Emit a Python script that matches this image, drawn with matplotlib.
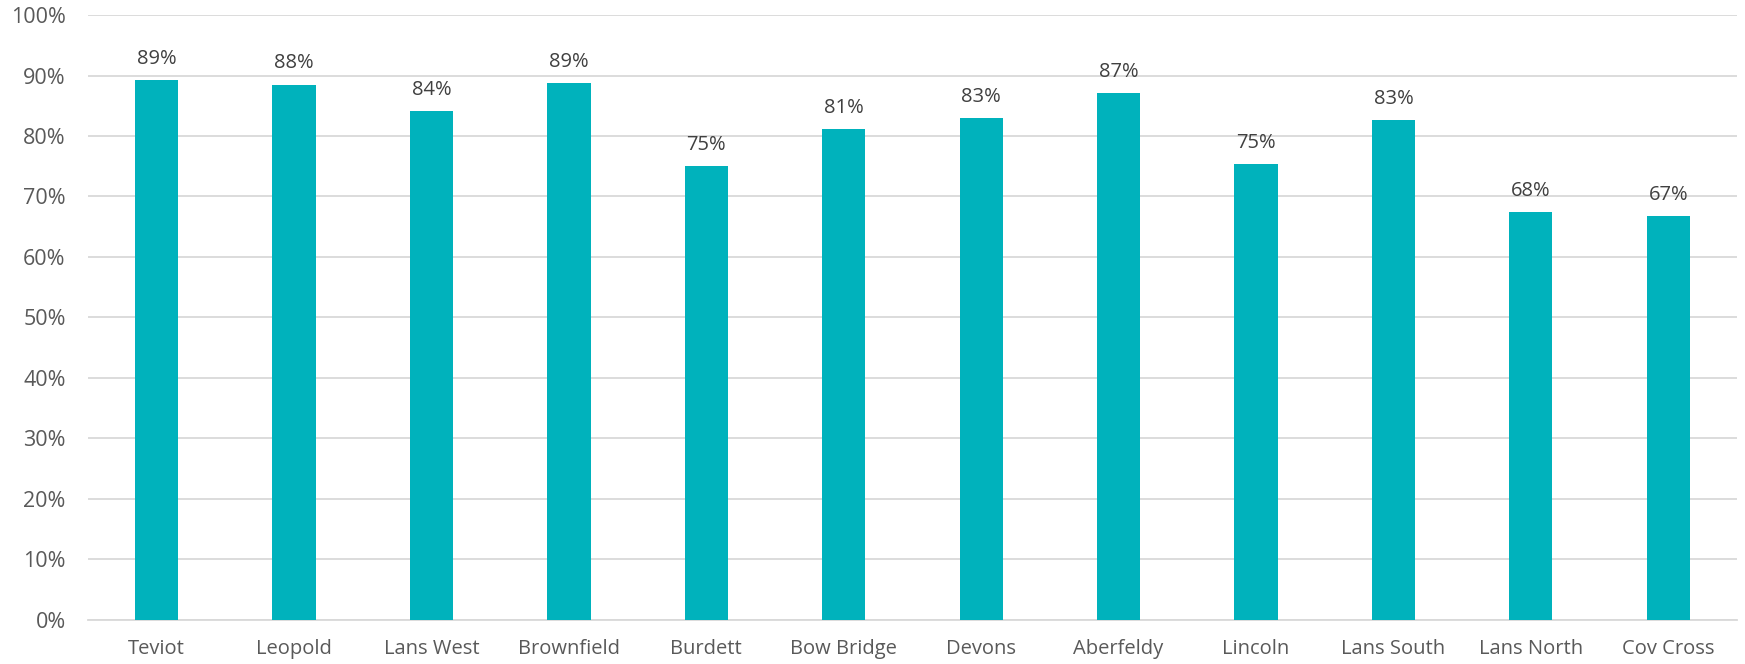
import matplotlib
matplotlib.use("Agg")
import matplotlib.pyplot as plt
from matplotlib.ticker import FuncFormatter, MultipleLocator

categories = ["Teviot", "Leopold", "Lans West", "Brownfield", "Burdett", "Bow Bridge",
              "Devons", "Aberfeldy", "Lincoln", "Lans South", "Lans North", "Cov Cross"]
values = [0.893, 0.885, 0.841, 0.887, 0.750, 0.812, 0.829, 0.871, 0.753, 0.827, 0.675, 0.667]
labels = ["89%", "88%", "84%", "89%", "75%", "81%", "83%", "87%", "75%", "83%", "68%", "67%"]

plt.rcParams['font.family'] = ['Open Sans', 'DejaVu Sans']
text_color = "#595959"
bar_color = "#00B2BC"

fig = plt.figure(figsize=(17.45, 6.64), dpi=100)
ax = fig.add_axes([0.0504, 0.0663, 0.9450, 0.9111])

x = list(range(len(categories)))
bars = ax.bar(x, values, width=0.315, color=bar_color, zorder=3)

for xi, v, lab in zip(x, values, labels):
    ax.annotate(lab, (xi, v), xytext=(0, 8), textcoords="offset points",
                ha="center", va="bottom", fontsize=14.5, color="#404040")

ax.set_xlim(-0.5, len(categories) - 0.5)
ax.set_ylim(0, 1.0)
ax.yaxis.set_major_locator(MultipleLocator(0.1))
ax.yaxis.set_major_formatter(FuncFormatter(lambda v, p: f"{v*100:.0f}%"))
ax.set_xticks(x)
ax.set_xticklabels(categories)
ax.grid(axis="y", color="#D9D9D9", linewidth=1.3, zorder=0)
for s in ["top", "right", "left"]:
    ax.spines[s].set_visible(False)
ax.spines["bottom"].set_color("#D9D9D9")
ax.spines["bottom"].set_linewidth(1.3)
ax.tick_params(axis="both", length=0, colors=text_color)
ax.tick_params(axis="x", pad=14, labelsize=14.5)
ax.tick_params(axis="y", pad=16, labelsize=15.5)

fig.savefig("out.png", dpi=100)
